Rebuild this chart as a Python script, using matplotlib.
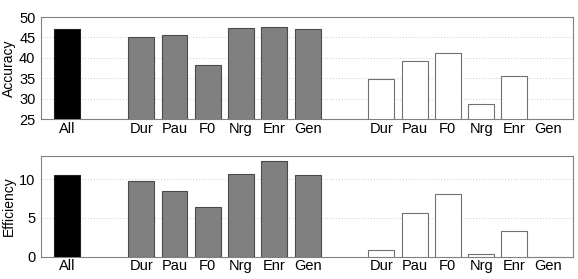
import matplotlib
matplotlib.use('Agg')
import matplotlib.pyplot as plt
import numpy as np

plt.rcParams['font.family'] = ['Liberation Sans', 'DejaVu Sans']

# ========== 数据 ==========
features = ['Dur', 'Pau', 'F0', 'Nrg', 'Enr', 'Gen']
acc_all = 47.0
acc_grey = [45.2, 45.5, 38.3, 47.3, 47.6, 47.0]
acc_white = [34.8, 39.3, 41.2, 28.8, 35.6, np.nan]

eff_all = 10.5
eff_grey = [9.8, 8.45, 6.42, 10.65, 12.3, 10.5]
eff_white = [0.83, 5.6, 8.06, 0.39, 3.28, 0.0]

# ========== 位置 ==========
x_all = 0.0
x_grey = 2.23 + np.arange(len(features))
x_white = 9.44 + np.arange(len(features))
bar_w = 0.78

fig = plt.figure(figsize=(5.78, 2.79), dpi=100)
ax1 = fig.add_axes([0.0709, 0.573, 0.920, 0.366])
ax2 = fig.add_axes([0.0709, 0.080, 0.920, 0.361])


def draw(ax, v_all, v_grey, v_white, ylim, yticks, ylabel):
    ax.bar([x_all], [v_all], width=bar_w, color='black', edgecolor='#202020', linewidth=0.8, zorder=3)
    ax.bar(x_grey, v_grey, width=bar_w, color='#808080', edgecolor='#4a4a4a', linewidth=0.8, zorder=3)
    ax.bar(x_white, v_white, width=bar_w, color='white', edgecolor='#707070', linewidth=0.8, zorder=3)
    ax.set_xlim(-0.78, 15.19)
    ax.set_ylim(*ylim)
    ax.set_yticks(yticks)
    ax.set_xticks([x_all] + list(x_grey) + list(x_white))
    ax.set_xticklabels(['All'] + features + features)
    ax.tick_params(length=0, labelsize=10.5, pad=2)
    ax.tick_params(axis='y', pad=4)
    grid_vals = [v for v in yticks if ylim[0] < v < ylim[1]]
    for v in grid_vals:
        ax.axhline(v, color='#b8b8b8', linestyle=(0, (1, 2.5)), linewidth=0.6, zorder=1)
    for s in ax.spines.values():
        s.set_color('#808080')
        s.set_linewidth(0.8)
    ax.set_ylabel(ylabel, fontsize=10, labelpad=2)


draw(ax1, acc_all, acc_grey, acc_white, (25, 50), [25, 30, 35, 40, 45, 50], 'Accuracy')
draw(ax2, eff_all, eff_grey, eff_white, (0, 13), [0, 5, 10], 'Efficiency')

plt.savefig('out.png', dpi=100)
